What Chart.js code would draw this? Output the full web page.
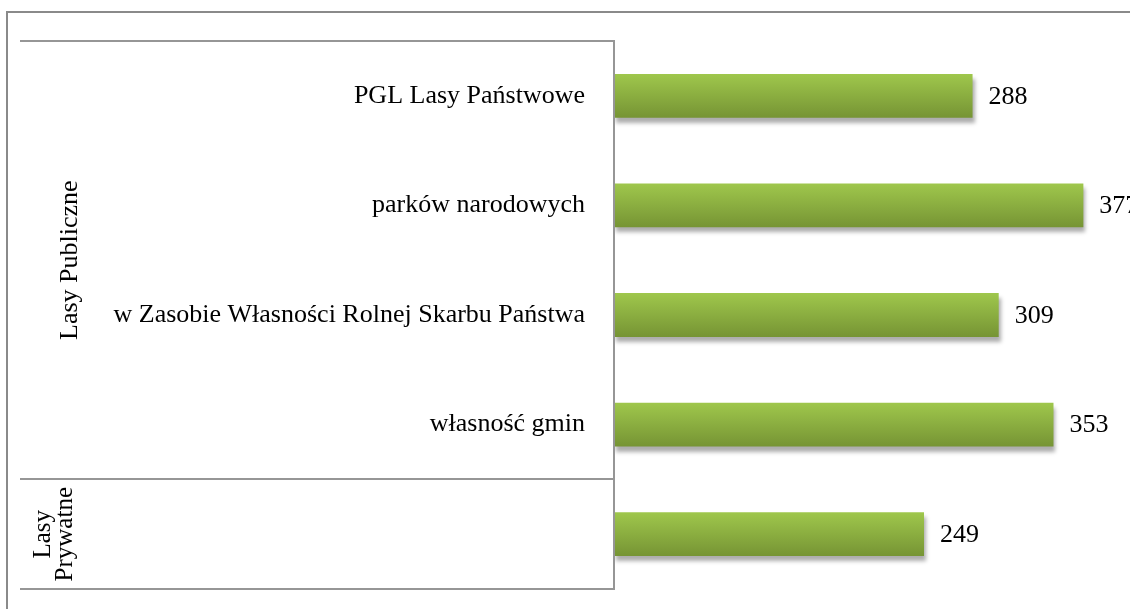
<!DOCTYPE html>
<html><head><meta charset="utf-8">
<script src="https://cdn.jsdelivr.net/npm/chart.js@4/dist/chart.umd.min.js"></script>
<style>html,body{margin:0;padding:0;background:#fff;overflow:hidden}#wrap{width:1130px;height:609px;position:relative}</style>
</head><body><div id="wrap"><canvas id="c" width="1130" height="609"></canvas></div>
<script>
const categories = ['PGL Lasy Państwowe', 'parków narodowych', 'w Zasobie Własności Rolnej Skarbu Państwa', 'własność gmin', ''];
const values = [288, 377, 309, 353, 249];
const groupLabels = [['Lasy Publiczne'], ['Lasy', 'Prywatne']];
const groupSpans = [[0, 3], [4, 4]];
const xMin = 0;
const xMax = 400;

const FONT = '"Liberation Serif", "Times New Roman", serif';
const LINE = '#969696';

const framePlugin = {
  id: 'frame',
  beforeDraw(chart) {
    const ctx = chart.ctx;
    ctx.save();
    ctx.strokeStyle = '#8a8a8a';
    ctx.lineWidth = 2;
    ctx.beginPath();
    ctx.moveTo(7, chart.height + 5);
    ctx.lineTo(7, 12);
    ctx.lineTo(chart.width + 5, 12);
    ctx.stroke();
    ctx.restore();
  },
  afterDatasetsDraw(chart) {
    const ctx = chart.ctx;
    const ys = chart.scales.y;
    const ca = chart.chartArea;
    const step = ys.height / categories.length;
    ctx.save();
    ctx.strokeStyle = LINE;
    ctx.lineWidth = 2;
    const tableLeft = 20;
    const bounds = new Set();
    groupSpans.forEach(([a, b]) => {
      bounds.add(Math.round(ys.getPixelForValue(a) - step / 2));
      bounds.add(Math.round(ys.getPixelForValue(b) + step / 2));
    });
    bounds.forEach(y => {
      ctx.beginPath();
      ctx.moveTo(tableLeft, y);
      ctx.lineTo(ca.left + 1, y);
      ctx.stroke();
    });
    ctx.beginPath();
    ctx.moveTo(ca.left, ca.top);
    ctx.lineTo(ca.left, ca.bottom);
    ctx.stroke();
    ctx.fillStyle = '#000';
    // category labels
    ctx.font = '26px ' + FONT;
    ctx.textAlign = 'right';
    ctx.textBaseline = 'middle';
    categories.forEach((t, i) => {
      ctx.fillText(t, ca.left - 29, ys.getPixelForValue(i));
    });
    // group labels
    const gx = [70, 54];
    const lh = [26, 22];
    const fs = [26, 25];
    ctx.textAlign = 'center';
    groupSpans.forEach(([a, b], i) => {
      const cy = (ys.getPixelForValue(a) + ys.getPixelForValue(b)) / 2;
      const lines = groupLabels[i];
      ctx.save();
      ctx.translate(gx[i], cy);
      ctx.rotate(-Math.PI / 2);
      ctx.font = fs[i] + 'px ' + FONT;
      lines.forEach((t, k) => {
        ctx.fillText(t, 0, (k - (lines.length - 1) / 2) * lh[i]);
      });
      ctx.restore();
    });
    // value labels
    const meta = chart.getDatasetMeta(0);
    ctx.font = '26px ' + FONT;
    ctx.textAlign = 'left';
    meta.data.forEach((el, i) => {
      ctx.fillText(String(values[i]), el.x + 16, el.y + 1);
    });
    ctx.restore();
  }
};

const shadowPlugin = {
  id: 'barShadow',
  beforeDatasetsDraw(chart) {
    const ctx = chart.ctx;
    ctx.save();
    ctx.shadowColor = 'rgba(0,0,0,0.32)';
    ctx.shadowBlur = 4;
    ctx.shadowOffsetX = 2;
    ctx.shadowOffsetY = 5;
  },
  afterDatasetsDraw(chart) {
    chart.ctx.restore();
  }
};

new Chart(document.getElementById('c'), {
  type: 'bar',
  data: {
    labels: categories,
    datasets: [{
      data: values,
      barPercentage: 0.4,
      categoryPercentage: 1,
      borderWidth: 0,
      backgroundColor(c) {
        const chart = c.chart;
        const ys = chart.scales && chart.scales.y;
        if (!ys || c.dataIndex === undefined || !ys.height) return '#8db045';
        const center = ys.getPixelForValue(c.dataIndex);
        const half = ys.height / categories.length * 0.4 / 2;
        const g = chart.ctx.createLinearGradient(0, center - half, 0, center + half);
        g.addColorStop(0, '#9fc74c');
        g.addColorStop(1, '#769434');
        return g;
      }
    }]
  },
  options: {
    indexAxis: 'y',
    responsive: false,
    animation: false,
    devicePixelRatio: 1,
    layout: { padding: { top: 41, bottom: 20, right: 18, left: 0 } },
    plugins: { legend: { display: false }, tooltip: { enabled: false } },
    scales: {
      x: { display: false, min: xMin, max: xMax },
      y: {
        grid: { display: false },
        border: { display: false },
        ticks: { display: false },
        afterFit(s) { s.width = 614; }
      }
    }
  },
  plugins: [shadowPlugin, framePlugin]
});
</script>
</body></html>
